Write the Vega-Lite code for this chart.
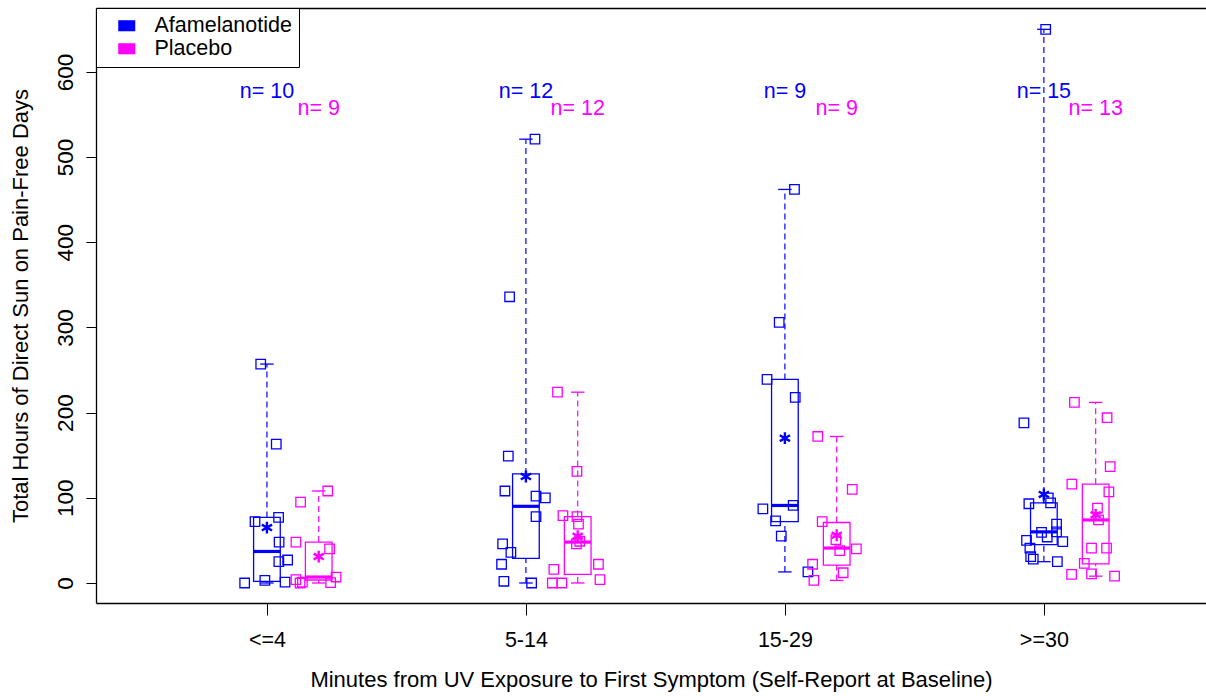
{
  "$schema": "https://vega.github.io/schema/vega-lite/v6.json",
  "width": 1110,
  "height": 595,
  "autosize": {"type": "none"},
  "padding": {"left": 96, "top": 8, "right": 0, "bottom": 93},
  "background": "white",
  "config": {
    "view": {"stroke": null},
    "font": "Liberation Sans",
    "axis": {"grid": false, "domainColor": "black", "tickColor": "black", "labelColor": "black", "titleColor": "black", "titleFontWeight": "normal", "labelFontSize": 21.5, "titleFontSize": 22, "domainWidth": 1.3, "tickWidth": 1}
  },
  "datasets": {
    "stats": [
      {"cat": "<=4", "arm": "Afamelanotide", "lo": 0, "q1": 2, "med": 37, "q3": 77, "hi": 257, "mean": 65},
      {"cat": "<=4", "arm": "Placebo", "lo": 0, "q1": 3.5, "med": 7, "q3": 48, "hi": 108, "mean": 31},
      {"cat": "5-14", "arm": "Afamelanotide", "lo": 0, "q1": 29, "med": 90, "q3": 128, "hi": 521, "mean": 125},
      {"cat": "5-14", "arm": "Placebo", "lo": 0, "q1": 10, "med": 48, "q3": 78, "hi": 224, "mean": 55},
      {"cat": "15-29", "arm": "Afamelanotide", "lo": 13, "q1": 72, "med": 91, "q3": 239, "hi": 462, "mean": 170},
      {"cat": "15-29", "arm": "Placebo", "lo": 3, "q1": 21, "med": 41, "q3": 71, "hi": 172, "mean": 56},
      {"cat": ">=30", "arm": "Afamelanotide", "lo": 25, "q1": 45, "med": 60, "q3": 94, "hi": 650, "mean": 104},
      {"cat": ">=30", "arm": "Placebo", "lo": 8, "q1": 22.5, "med": 74, "q3": 116, "hi": 212, "mean": 80}
    ],
    "pts": [
      {"cat": "<=4", "arm": "Afamelanotide", "hours": 257, "jit": -0.024},
      {"cat": "<=4", "arm": "Afamelanotide", "hours": 163, "jit": 0.036},
      {"cat": "<=4", "arm": "Afamelanotide", "hours": 72, "jit": -0.046},
      {"cat": "<=4", "arm": "Afamelanotide", "hours": 77, "jit": 0.045},
      {"cat": "<=4", "arm": "Afamelanotide", "hours": 48, "jit": 0.047},
      {"cat": "<=4", "arm": "Afamelanotide", "hours": 25, "jit": 0.046},
      {"cat": "<=4", "arm": "Afamelanotide", "hours": 27, "jit": 0.08},
      {"cat": "<=4", "arm": "Afamelanotide", "hours": 3, "jit": -0.008},
      {"cat": "<=4", "arm": "Afamelanotide", "hours": 1, "jit": 0.07},
      {"cat": "<=4", "arm": "Afamelanotide", "hours": 0, "jit": -0.086},
      {"cat": "<=4", "arm": "Placebo", "hours": 108, "jit": 0.035},
      {"cat": "<=4", "arm": "Placebo", "hours": 95, "jit": -0.07},
      {"cat": "<=4", "arm": "Placebo", "hours": 48, "jit": -0.088},
      {"cat": "<=4", "arm": "Placebo", "hours": 40, "jit": 0.042},
      {"cat": "<=4", "arm": "Placebo", "hours": 7, "jit": 0.067},
      {"cat": "<=4", "arm": "Placebo", "hours": 4, "jit": -0.088},
      {"cat": "<=4", "arm": "Placebo", "hours": 1, "jit": -0.063},
      {"cat": "<=4", "arm": "Placebo", "hours": 0, "jit": -0.072},
      {"cat": "<=4", "arm": "Placebo", "hours": 0.4, "jit": 0.046},
      {"cat": "5-14", "arm": "Afamelanotide", "hours": 521, "jit": 0.035},
      {"cat": "5-14", "arm": "Afamelanotide", "hours": 336, "jit": -0.063},
      {"cat": "5-14", "arm": "Afamelanotide", "hours": 149, "jit": -0.068},
      {"cat": "5-14", "arm": "Afamelanotide", "hours": 108, "jit": -0.081},
      {"cat": "5-14", "arm": "Afamelanotide", "hours": 102, "jit": 0.039},
      {"cat": "5-14", "arm": "Afamelanotide", "hours": 100, "jit": 0.075},
      {"cat": "5-14", "arm": "Afamelanotide", "hours": 78, "jit": 0.039},
      {"cat": "5-14", "arm": "Afamelanotide", "hours": 46, "jit": -0.09},
      {"cat": "5-14", "arm": "Afamelanotide", "hours": 36, "jit": -0.058},
      {"cat": "5-14", "arm": "Afamelanotide", "hours": 22, "jit": -0.094},
      {"cat": "5-14", "arm": "Afamelanotide", "hours": 2, "jit": -0.085},
      {"cat": "5-14", "arm": "Afamelanotide", "hours": 0, "jit": 0.022},
      {"cat": "5-14", "arm": "Placebo", "hours": 224, "jit": -0.078},
      {"cat": "5-14", "arm": "Placebo", "hours": 131, "jit": -0.003},
      {"cat": "5-14", "arm": "Placebo", "hours": 79, "jit": -0.057},
      {"cat": "5-14", "arm": "Placebo", "hours": 78, "jit": -0.003},
      {"cat": "5-14", "arm": "Placebo", "hours": 69, "jit": 0.003},
      {"cat": "5-14", "arm": "Placebo", "hours": 46, "jit": -0.005},
      {"cat": "5-14", "arm": "Placebo", "hours": 49, "jit": 0.008},
      {"cat": "5-14", "arm": "Placebo", "hours": 22, "jit": 0.08},
      {"cat": "5-14", "arm": "Placebo", "hours": 16, "jit": -0.092},
      {"cat": "5-14", "arm": "Placebo", "hours": 4, "jit": 0.086},
      {"cat": "5-14", "arm": "Placebo", "hours": 0, "jit": -0.098},
      {"cat": "5-14", "arm": "Placebo", "hours": 0, "jit": -0.061},
      {"cat": "15-29", "arm": "Afamelanotide", "hours": 462, "jit": 0.037},
      {"cat": "15-29", "arm": "Afamelanotide", "hours": 306, "jit": -0.022},
      {"cat": "15-29", "arm": "Afamelanotide", "hours": 239, "jit": -0.069},
      {"cat": "15-29", "arm": "Afamelanotide", "hours": 218, "jit": 0.04},
      {"cat": "15-29", "arm": "Afamelanotide", "hours": 91, "jit": 0.032},
      {"cat": "15-29", "arm": "Afamelanotide", "hours": 87, "jit": -0.085},
      {"cat": "15-29", "arm": "Afamelanotide", "hours": 73, "jit": -0.036},
      {"cat": "15-29", "arm": "Afamelanotide", "hours": 55, "jit": -0.014},
      {"cat": "15-29", "arm": "Afamelanotide", "hours": 13, "jit": 0.089},
      {"cat": "15-29", "arm": "Placebo", "hours": 172, "jit": -0.073},
      {"cat": "15-29", "arm": "Placebo", "hours": 110, "jit": 0.06},
      {"cat": "15-29", "arm": "Placebo", "hours": 72, "jit": -0.056},
      {"cat": "15-29", "arm": "Placebo", "hours": 51, "jit": -0.003},
      {"cat": "15-29", "arm": "Placebo", "hours": 38, "jit": 0.012},
      {"cat": "15-29", "arm": "Placebo", "hours": 40, "jit": 0.076},
      {"cat": "15-29", "arm": "Placebo", "hours": 22, "jit": -0.093},
      {"cat": "15-29", "arm": "Placebo", "hours": 12, "jit": 0.025},
      {"cat": "15-29", "arm": "Placebo", "hours": 3, "jit": -0.088},
      {"cat": ">=30", "arm": "Afamelanotide", "hours": 650, "jit": 0.007},
      {"cat": ">=30", "arm": "Afamelanotide", "hours": 188, "jit": -0.077},
      {"cat": ">=30", "arm": "Afamelanotide", "hours": 93, "jit": -0.058},
      {"cat": ">=30", "arm": "Afamelanotide", "hours": 100, "jit": 0.017},
      {"cat": ">=30", "arm": "Afamelanotide", "hours": 94, "jit": 0.026},
      {"cat": ">=30", "arm": "Afamelanotide", "hours": 69, "jit": 0.049},
      {"cat": ">=30", "arm": "Afamelanotide", "hours": 60, "jit": 0.049},
      {"cat": ">=30", "arm": "Afamelanotide", "hours": 59.5, "jit": -0.009},
      {"cat": ">=30", "arm": "Afamelanotide", "hours": 54, "jit": 0.013},
      {"cat": ">=30", "arm": "Afamelanotide", "hours": 50, "jit": -0.067},
      {"cat": ">=30", "arm": "Afamelanotide", "hours": 48.5, "jit": 0.073},
      {"cat": ">=30", "arm": "Afamelanotide", "hours": 41, "jit": -0.054},
      {"cat": ">=30", "arm": "Afamelanotide", "hours": 31, "jit": -0.051},
      {"cat": ">=30", "arm": "Afamelanotide", "hours": 28, "jit": -0.041},
      {"cat": ">=30", "arm": "Afamelanotide", "hours": 25, "jit": 0.052},
      {"cat": ">=30", "arm": "Placebo", "hours": 212, "jit": -0.082},
      {"cat": ">=30", "arm": "Placebo", "hours": 194, "jit": 0.044},
      {"cat": ">=30", "arm": "Placebo", "hours": 136.5, "jit": 0.056},
      {"cat": ">=30", "arm": "Placebo", "hours": 116, "jit": -0.092},
      {"cat": ">=30", "arm": "Placebo", "hours": 107, "jit": 0.051},
      {"cat": ">=30", "arm": "Placebo", "hours": 88, "jit": 0.007},
      {"cat": ">=30", "arm": "Placebo", "hours": 74, "jit": 0.011},
      {"cat": ">=30", "arm": "Placebo", "hours": 41, "jit": -0.016},
      {"cat": ">=30", "arm": "Placebo", "hours": 41, "jit": 0.042},
      {"cat": ">=30", "arm": "Placebo", "hours": 23, "jit": -0.044},
      {"cat": ">=30", "arm": "Placebo", "hours": 10, "jit": -0.093},
      {"cat": ">=30", "arm": "Placebo", "hours": 10.6, "jit": -0.016},
      {"cat": ">=30", "arm": "Placebo", "hours": 8, "jit": 0.073}
    ]
  },
  "resolve": {"axis": {"x": "independent"}},
  "layer": [
    {
      "data": {"name": "stats"},
      "transform": [
        {"calculate": "indexof(['<=4','5-14','15-29','>=30'], datum.cat) + 1 + (datum.arm === 'Placebo' ? 0.2 : 0)", "as": "pos"},
        {"calculate": "datum.pos - 0.0515", "as": "left"},
        {"calculate": "datum.pos + 0.0515", "as": "right"}
      ],
      "mark": {"type": "rect", "filled": false, "strokeWidth": 1.3},
      "encoding": {
        "x": {"field": "left", "type": "quantitative", "scale": {"domain": [0.34, 4.626], "nice": false, "zero": false},
          "axis": {"orient": "bottom", "values": [1, 2, 3, 4], "labelExpr": "['<=4','5-14','15-29','>=30'][datum.value - 1]", "title": "Minutes from UV Exposure to First Symptom (Self-Report at Baseline)", "tickSize": 12, "labelPadding": 14, "titlePadding": 19}},
        "x2": {"field": "right"},
        "y": {"field": "q1", "type": "quantitative", "scale": {"domain": [-23.5, 675], "nice": false, "zero": false},
          "axis": {"orient": "left", "values": [0, 100, 200, 300, 400, 500, 600], "title": "Total Hours of Direct Sun on Pain-Free Days", "tickSize": 10, "labelAngle": 270, "labelAlign": "center", "labelBaseline": "alphabetic", "labelFontSize": 22.5, "labelPadding": 14, "titlePadding": 22}},
        "y2": {"field": "q3"},
        "color": {"field": "arm", "type": "nominal", "scale": {"domain": ["Afamelanotide", "Placebo"], "range": ["#0000ff", "#ff00ff"]},
          "legend": {"title": null, "orient": "top-left", "offset": 0, "padding": 7, "strokeColor": "black", "fillColor": "white",
            "labelFontSize": 21.5, "labelColor": "black", "labelFont": "Liberation Sans",
            "symbolType": "M-1,-0.65L1,-0.65L1,0.65L-1,0.65Z", "symbolSize": 289, "symbolOffset": 13, "labelOffset": 17, "rowPadding": 0,
            "encode": {"symbols": {"update": {"fill": {"scale": "color", "field": "value"}, "fillOpacity": {"value": 1}, "strokeWidth": {"value": 0}}}}}}
      }
    },
    {
      "data": {"name": "stats"},
      "transform": [
        {"calculate": "indexof(['<=4','5-14','15-29','>=30'], datum.cat) + 1 + (datum.arm === 'Placebo' ? 0.2 : 0)", "as": "pos"}
      ],
      "mark": {"type": "rule", "strokeDash": [6, 4], "strokeWidth": 1.2},
      "encoding": {
        "x": {"field": "pos", "type": "quantitative", "scale": {"domain": [0.34, 4.626], "nice": false, "zero": false},
          "axis": {"orient": "top", "labels": false, "ticks": false, "title": null}},
        "y": {"field": "q3", "type": "quantitative"},
        "y2": {"field": "hi"},
        "color": {"field": "arm", "type": "nominal"}
      }
    },
    {
      "data": {"name": "stats"},
      "transform": [
        {"calculate": "indexof(['<=4','5-14','15-29','>=30'], datum.cat) + 1 + (datum.arm === 'Placebo' ? 0.2 : 0)", "as": "pos"}
      ],
      "mark": {"type": "rule", "strokeDash": [6, 4], "strokeWidth": 1.2},
      "encoding": {
        "x": {"field": "pos", "type": "quantitative", "axis": null},
        "y": {"field": "lo", "type": "quantitative"},
        "y2": {"field": "q1"},
        "color": {"field": "arm", "type": "nominal"}
      }
    },
    {
      "data": {"name": "stats"},
      "transform": [
        {"calculate": "indexof(['<=4','5-14','15-29','>=30'], datum.cat) + 1 + (datum.arm === 'Placebo' ? 0.2 : 0)", "as": "pos"},
        {"calculate": "datum.pos - 0.026", "as": "capL"},
        {"calculate": "datum.pos + 0.026", "as": "capR"},
        {"fold": ["lo", "hi"], "as": ["end", "level"]}
      ],
      "mark": {"type": "rule", "strokeWidth": 1.3},
      "encoding": {
        "x": {"field": "capL", "type": "quantitative", "axis": null},
        "x2": {"field": "capR"},
        "y": {"field": "level", "type": "quantitative"},
        "color": {"field": "arm", "type": "nominal"}
      }
    },
    {
      "data": {"name": "stats"},
      "transform": [
        {"calculate": "indexof(['<=4','5-14','15-29','>=30'], datum.cat) + 1 + (datum.arm === 'Placebo' ? 0.2 : 0)", "as": "pos"},
        {"calculate": "datum.pos - 0.0515", "as": "left"},
        {"calculate": "datum.pos + 0.0515", "as": "right"}
      ],
      "mark": {"type": "rule", "strokeWidth": 3.2},
      "encoding": {
        "x": {"field": "left", "type": "quantitative", "axis": null},
        "x2": {"field": "right"},
        "y": {"field": "med", "type": "quantitative"},
        "color": {"field": "arm", "type": "nominal"}
      }
    },
    {
      "data": {"name": "pts"},
      "transform": [
        {"calculate": "indexof(['<=4','5-14','15-29','>=30'], datum.cat) + 1 + (datum.arm === 'Placebo' ? 0.2 : 0) + datum.jit", "as": "xj"}
      ],
      "mark": {"type": "point", "shape": "square", "filled": false, "size": 90, "strokeWidth": 1.3, "opacity": 1},
      "encoding": {
        "x": {"field": "xj", "type": "quantitative", "axis": null},
        "y": {"field": "hours", "type": "quantitative"},
        "color": {"field": "arm", "type": "nominal"}
      }
    },
    {
      "data": {"name": "stats"},
      "transform": [
        {"calculate": "indexof(['<=4','5-14','15-29','>=30'], datum.cat) + 1 + (datum.arm === 'Placebo' ? 0.2 : 0)", "as": "pos"}
      ],
      "mark": {"type": "point", "shape": "M0,-1L0,1M-0.866,-0.5L0.866,0.5M-0.866,0.5L0.866,-0.5", "filled": false, "size": 140, "strokeWidth": 2.4, "opacity": 1},
      "encoding": {
        "x": {"field": "pos", "type": "quantitative", "axis": null},
        "y": {"field": "mean", "type": "quantitative"},
        "color": {"field": "arm", "type": "nominal"}
      }
    },
    {
      "data": {"name": "pts"},
      "transform": [
        {"aggregate": [{"op": "count", "as": "n"}], "groupby": ["cat", "arm"]},
        {"filter": "datum.arm === 'Afamelanotide'"},
        {"calculate": "indexof(['<=4','5-14','15-29','>=30'], datum.cat) + 1", "as": "pos"},
        {"calculate": "'n= ' + datum.n", "as": "label"}
      ],
      "mark": {"type": "text", "fontSize": 21.5, "font": "Liberation Sans", "align": "center", "baseline": "middle"},
      "encoding": {
        "x": {"field": "pos", "type": "quantitative", "axis": null},
        "y": {"datum": 576, "type": "quantitative"},
        "text": {"field": "label"},
        "color": {"field": "arm", "type": "nominal"}
      }
    },
    {
      "data": {"name": "pts"},
      "transform": [
        {"aggregate": [{"op": "count", "as": "n"}], "groupby": ["cat", "arm"]},
        {"filter": "datum.arm === 'Placebo'"},
        {"calculate": "indexof(['<=4','5-14','15-29','>=30'], datum.cat) + 1.2", "as": "pos"},
        {"calculate": "'n= ' + datum.n", "as": "label"}
      ],
      "mark": {"type": "text", "fontSize": 21.5, "font": "Liberation Sans", "align": "center", "baseline": "middle"},
      "encoding": {
        "x": {"field": "pos", "type": "quantitative", "axis": null},
        "y": {"datum": 556, "type": "quantitative"},
        "text": {"field": "label"},
        "color": {"field": "arm", "type": "nominal"}
      }
    }
  ]
}
